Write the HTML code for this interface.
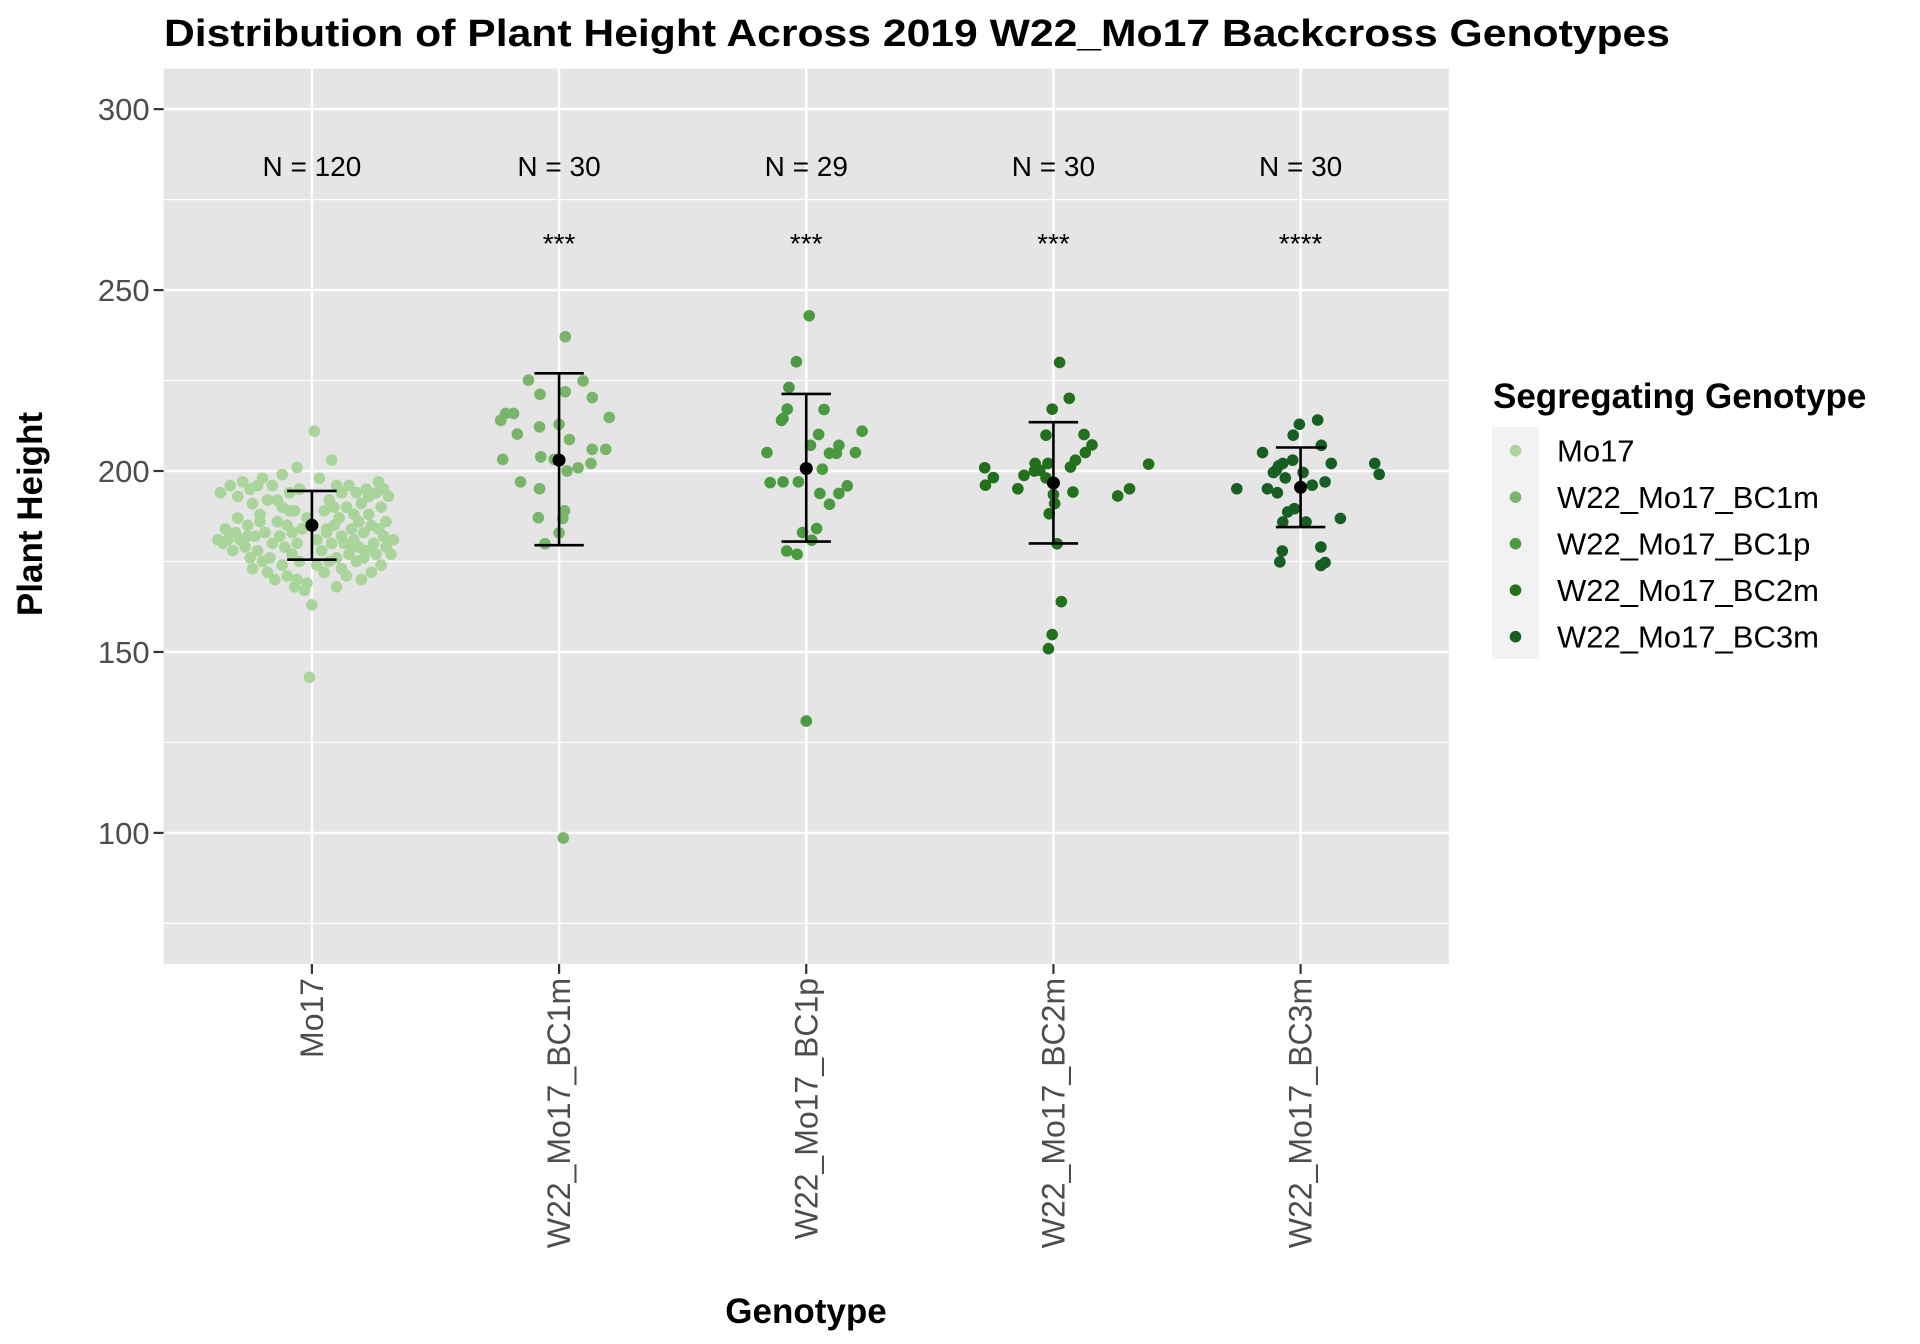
<!DOCTYPE html>
<html><head><meta charset="utf-8"><style>
html,body{margin:0;padding:0;background:#fff;}
svg{display:block;font-family:"Liberation Sans",Arial,sans-serif;}
</style></head><body>
<svg id="chart" width="1920" height="1344" viewBox="0 0 1920 1344" xmlns="http://www.w3.org/2000/svg">
<text x="164" y="46" font-size="38" font-weight="bold" fill="#000" textLength="1506" lengthAdjust="spacingAndGlyphs">Distribution of Plant Height Across 2019 W22_Mo17 Backcross Genotypes</text>
<g id="panel"></g>
<text transform="translate(42,514) rotate(-90)" text-anchor="middle" font-size="35" font-weight="bold">Plant Height</text>
<text x="806" y="1323" text-anchor="middle" font-size="35" font-weight="bold">Genotype</text>
<g id="legend"></g>
</svg>
<script>
const categories = ["Mo17","W22_Mo17_BC1m","W22_Mo17_BC1p","W22_Mo17_BC2m","W22_Mo17_BC3m"];
const colors = ["#a9d49a","#78b46a","#4b9a42","#23701c","#175e22"];
const nLabels = ["N = 120","N = 30","N = 29","N = 30","N = 30"];
const sigLabels = ["","***","***","***","****"];
const yTicks = [100,150,200,250,300];
const yMinor = [75,125,175,225,275];
const means = [185,203,200.7,196.7,195.5];
const lowerBars = [175.5,179.5,180.5,180,184.5];
const upperBars = [194.5,227,221.3,213.5,206.5];
const mo17Values = [211,203,201,199,198,198,197,197,196,196,196,196,196,195,195,195,195,194,194,194,194,194,193,193,192,192,191,191,190,190,190,189,189,188,188,187,187,187,186,186,186,185,185,185,185,184,184,184,184,183,183,183,183,182,182,182,182,181,181,181,181,181,180,180,180,180,180,180,179,179,179,179,178,178,178,178,177,177,177,176,176,176,176,175,175,175,175,174,174,174,173,173,172,172,172,171,171,170,170,170,169,168,168,167,188,186,190,192,193,185,187,183,181,179,177,182,184,163,143,189];
const mo17Jitter = [0.01,0.08,-0.06,-0.12,0.03,-0.2,-0.28,0.27,-0.22,0.15,-0.33,0.1,-0.16,0.29,-0.25,0.22,-0.05,-0.37,0.12,0.26,-0.09,0.18,-0.3,0.31,-0.18,0.07,-0.24,0.2,-0.12,0.14,0.28,-0.07,0.05,-0.21,0.23,-0.3,0.11,-0.02,0.19,-0.14,0.3,-0.26,0.09,-0.1,0.24,-0.35,0.16,-0.04,0.27,-0.19,0.06,-0.31,0.21,-0.13,0.12,-0.23,0.29,-0.38,0.02,0.17,-0.29,0.33,-0.36,0.08,-0.16,0.25,-0.06,0.13,-0.27,0.19,-0.11,0.3,-0.22,0.04,0.22,-0.32,0.15,-0.08,0.26,-0.17,0.1,-0.25,0.21,-0.05,0.07,-0.2,0.18,0.02,-0.12,0.28,-0.24,0.12,-0.18,0.05,0.24,-0.1,0.14,-0.06,0.2,-0.15,-0.02,-0.07,0.1,-0.03,0.17,-0.21,0.09,-0.14,0.23,0.0,0.11,-0.08,-0.34,0.16,0.32,-0.26,0.06,0.0,-0.01,-0.09];
const bc1mValues = [237.1,225.1,224.9,221.2,221.9,220.3,215.9,215.9,214.0,214.8,212.2,212.9,210.2,208.7,206.0,206.0,203.2,203.9,200.9,202.1,200.0,197.0,195.1,189.0,187.1,186.9,182.9,179.9,98.6,203.2];
const bc1mJitter = [0.025,-0.124,0.097,-0.077,0.025,0.134,-0.216,-0.184,-0.236,0.203,-0.079,0,-0.169,0.042,0.134,0.189,-0.228,-0.074,0.077,0.129,0.032,-0.156,-0.079,0.022,-0.084,0.015,0,-0.057,0.017,-0.02];
const bc1pValues = [242.9,230.2,223.1,217.1,217.0,214.0,214.5,211.0,210.1,207.1,207.1,204.9,204.9,205.1,205.1,196.8,197.0,197.0,195.9,193.8,193.8,190.8,184.1,183.0,180.9,177.9,177.0,130.9,200.5];
const bc1pJitter = [0.012,-0.04,-0.07,-0.077,0.072,-0.1,-0.094,0.226,0.05,0.017,0.132,0.094,0.122,0.199,-0.159,-0.146,-0.094,-0.032,0.166,0.055,0.132,0.094,0.042,-0.015,0.022,-0.079,-0.037,0,0.065];
const bc2mValues = [230.0,220.1,217.1,209.9,210.1,207.2,205.1,203.0,201.1,202.1,202.1,200.0,201.9,200.9,198.2,198.8,198.1,196.1,195.1,194.2,195.1,193.1,191.0,188.2,179.9,163.9,154.8,150.9,200.2,193.5];
const bc2mJitter = [0.025,0.064,-0.005,-0.03,0.124,0.156,0.129,0.089,0.069,-0.074,-0.022,-0.077,0.385,-0.278,-0.243,-0.119,-0.03,-0.275,-0.144,0.079,0.308,0.26,0.005,-0.017,0.015,0.032,-0.005,-0.02,-0.055,0];
const bc3mValues = [214.1,212.9,209.9,207.1,205.1,202.1,202.1,199.1,202.1,203.0,200.2,201.4,198.1,197.0,195.1,195.1,194.0,189.6,188.7,186.9,185.9,185.9,177.9,179.0,174.9,174.7,173.9,199.6,199.6,196.1];
const bc3mJitter = [0.069,-0.005,-0.03,0.084,-0.154,0.124,0.3,0.318,-0.072,-0.032,-0.099,-0.089,-0.062,0.099,-0.258,-0.134,-0.094,-0.025,-0.052,0.161,-0.072,0.022,-0.074,0.082,-0.084,0.099,0.082,0.01,-0.11,0.047];
const groupValues = [mo17Values,bc1mValues,bc1pValues,bc2mValues,bc3mValues];
const groupJitter = [mo17Jitter,bc1mJitter,bc1pJitter,bc2mJitter,bc3mJitter];

const NS="http://www.w3.org/2000/svg";
const P={l:163.6,r:1448.9,t:68.6,b:963.9};
const yMin=63.8,yMax=311.2;
function yScale(v){return P.b-(v-yMin)/(yMax-yMin)*(P.b-P.t);}
function xScale(i){return P.l+(i+0.6)/(categories.length+0.2)*(P.r-P.l);}
const bandW=(P.r-P.l)/(categories.length+0.2);
function mk(parent,tag,attrs,text){const e=document.createElementNS(NS,tag);for(const k in attrs)e.setAttribute(k,attrs[k]);if(text!==undefined)e.textContent=text;parent.appendChild(e);return e;}
const svg=document.getElementById('chart');
const panel=document.getElementById('panel');
let e=mk(panel,'rect',{x:P.l,y:P.t,width:P.r-P.l,height:P.b-P.t,fill:'#e5e5e5'});


yMinor.forEach(v=>{const l=mk(panel,'line',{x1:P.l,x2:P.r,y1:yScale(v),y2:yScale(v),stroke:'#fff','stroke-width':1.2});

});
yTicks.forEach(v=>{const y=yScale(v);
const l=mk(panel,'line',{x1:P.l,x2:P.r,y1:y,y2:y,stroke:'#fff','stroke-width':2.4});


const t=mk(svg,'line',{x1:P.l-10,x2:P.l,y1:y,y2:y,stroke:'#333','stroke-width':2.2});


const tx=mk(svg,'text',{x:P.l-14,y:y+11,'text-anchor':'end','font-size':31,fill:'#4d4d4d'},String(v));

});
categories.forEach((c,i)=>{const x=xScale(i);
const l=mk(panel,'line',{x1:x,x2:x,y1:P.t,y2:P.b,stroke:'#fff','stroke-width':2.4});


const t=mk(svg,'line',{x1:x,x2:x,y1:P.b,y2:P.b+10,stroke:'#333','stroke-width':2.2});


const tx=mk(svg,'text',{transform:`translate(${x+11},${P.b+14}) rotate(-90)`,'text-anchor':'end','font-size':32,fill:'#4d4d4d'},c);


const nl=mk(panel,'text',{x:x,y:176,'text-anchor':'middle','font-size':28,fill:'#000'},nLabels[i]);


if(sigLabels[i]){const s=mk(panel,'text',{x:x,y:253,'text-anchor':'middle','font-size':28,fill:'#000'},sigLabels[i]);

}
groupValues[i].forEach((v,j)=>{const p=mk(panel,'circle',{cx:x+groupJitter[i][j]*bandW,cy:yScale(v),r:5.8,fill:colors[i]});

});
});
categories.forEach((c,i)=>{const x=xScale(i);const hw=0.1*bandW;
const g=mk(panel,'g',{stroke:'#000','stroke-width':2.6});


mk(g,'line',{x1:x,x2:x,y1:yScale(lowerBars[i]),y2:yScale(upperBars[i])});
mk(g,'line',{x1:x-hw,x2:x+hw,y1:yScale(lowerBars[i]),y2:yScale(lowerBars[i])});
mk(g,'line',{x1:x-hw,x2:x+hw,y1:yScale(upperBars[i]),y2:yScale(upperBars[i])});
const m=mk(panel,'circle',{cx:x,cy:yScale(means[i]),r:6.5,fill:'#000'});

});
const leg=document.getElementById('legend');
const lt=mk(leg,'text',{x:1493,y:408,'font-size':35,'font-weight':'bold',fill:'#000'},'Segregating Genotype');


const lb=mk(leg,'rect',{x:1492,y:427,width:47,height:232,fill:'#f2f2f2'});


categories.forEach((c,i)=>{const y=450.7+i*46.5;
const k=mk(leg,'circle',{cx:1515.5,cy:y,r:5.8,fill:colors[i]});


const t=mk(leg,'text',{x:1557,y:y+11,'font-size':31,fill:'#000'},c);

});
</script>
</body></html>
